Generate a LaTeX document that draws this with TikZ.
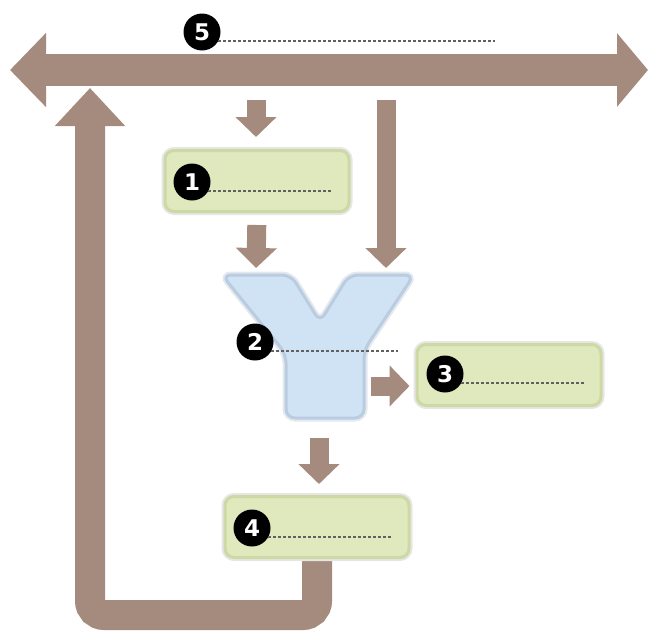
\documentclass[tikz,border=0pt]{standalone}
\usepackage{fontspec}
\newfontfamily\numfont{DejaVu Sans}
\usetikzlibrary{arrows.meta}

\definecolor{arrowbrown}{HTML}{A58B7D}
\definecolor{boxgreen}{HTML}{DFE9BD}
\definecolor{boxedge}{HTML}{CCD9A4}
\definecolor{glow}{HTML}{E6E6E6}
\definecolor{yfill}{HTML}{D0E3F5}
\definecolor{yedge}{HTML}{B9CCE0}
\definecolor{yglow}{HTML}{E4E9EF}
\definecolor{dotline}{HTML}{606060}

\pgfdeclarelayer{back}
\pgfsetlayers{back,main}

\tikzset{
  stepbox/.style={rounded corners=9pt, minimum width=184pt, minimum height=61pt,
    fill=boxgreen, draw=boxedge, line width=3pt,
    preaction={draw=glow, line width=7pt}},
  badge/.style={circle, fill=black, minimum size=37pt, inner sep=0pt, text=white,
    font=\numfont\bfseries\fontsize{23}{23}\selectfont},
  leader/.style={dotline, line width=1.8pt, dash pattern=on 3pt off 2pt},
  smallarrow/.style={arrowbrown, line width=19pt,
    -{Triangle[width=40pt,length=20pt]}},
  bigarrow/.style={arrowbrown, line width=32pt,
    {Triangle[width=72pt,length=36pt]}-{Triangle[width=72pt,length=31pt]}},
  looparrow/.style={arrowbrown, line width=30pt, rounded corners=14pt,
    -{Triangle[width=68pt,length=38pt]}},
}

\begin{document}
\begin{tikzpicture}[x=1pt,y=-1pt]
\useasboundingbox (0,0) rectangle (650,632);

% process boxes
\node[stepbox] (box1) at (257,181) {};
\node[stepbox] (box3) at (509,375) {};
\node[stepbox] (box4) at (317,527) {};

% Y-shaped splitter
\draw[yedge, line width=3pt, fill=yfill, rounded corners=9pt,
      preaction={draw=yglow, line width=7pt}]
  (222,275) -- (291,275) -- (320,322) -- (349,275) -- (414,275)
  -- (364,350) -- (364,418) -- (286,418) -- (286,354) -- cycle;
\coordinate (yL) at (256,268);
\coordinate (yR) at (386,268);
\coordinate (yO) at (371,386);
\coordinate (yB) at (319,438);

% free ends on the main bus
\coordinate (busL) at (10,70);
\coordinate (busR) at (648,70);
\coordinate (t1) at (256,100);
\coordinate (t3) at (386,100);
\coordinate (loopTip) at (90,88);

% numbered markers and their dotted leaders
\node[badge] (n1) at (192,182) {1};
\node[badge] (n2) at (255,342) {2};
\node[badge] (n3) at (445,374) {3};
\node[badge] (n4) at (252,528) {4};
\node[badge] (n5) at (202,32) {5};

\coordinate (e1) at (333,0);
\coordinate (e2) at (398,0);
\coordinate (e3) at (585,0);
\coordinate (e4) at (393,0);
\coordinate (e5) at (495,0);
\draw[leader] (n1.-30) -- (n1.-30 -| e1);
\draw[leader] (n2.-30) -- (n2.-30 -| e2);
\draw[leader] (n3.-30) -- (n3.-30 -| e3);
\draw[leader] (n4.-30) -- (n4.-30 -| e4);
\draw[leader] (n5.-30) -- (n5.-30 -| e5);

% flow arrows
\begin{pgfonlayer}{back}
  \draw[bigarrow] (busL) -- (busR);
  \draw[looparrow] (box4.center) -- ++(0,88) -| (loopTip);
  \draw[smallarrow, shorten >=12pt] (t1) -- (t1 |- box1.north);
  \draw[smallarrow, shorten <=12pt] (box1.south) -- (yL);
  \draw[smallarrow] (t3) -- (yR);
  \draw[smallarrow, shorten >=6pt] (yO) -- (yO -| box3.west);
  \draw[smallarrow, shorten >=11pt] (yB) -- (yB |- box4.north);
\end{pgfonlayer}
\end{tikzpicture}
\end{document}
